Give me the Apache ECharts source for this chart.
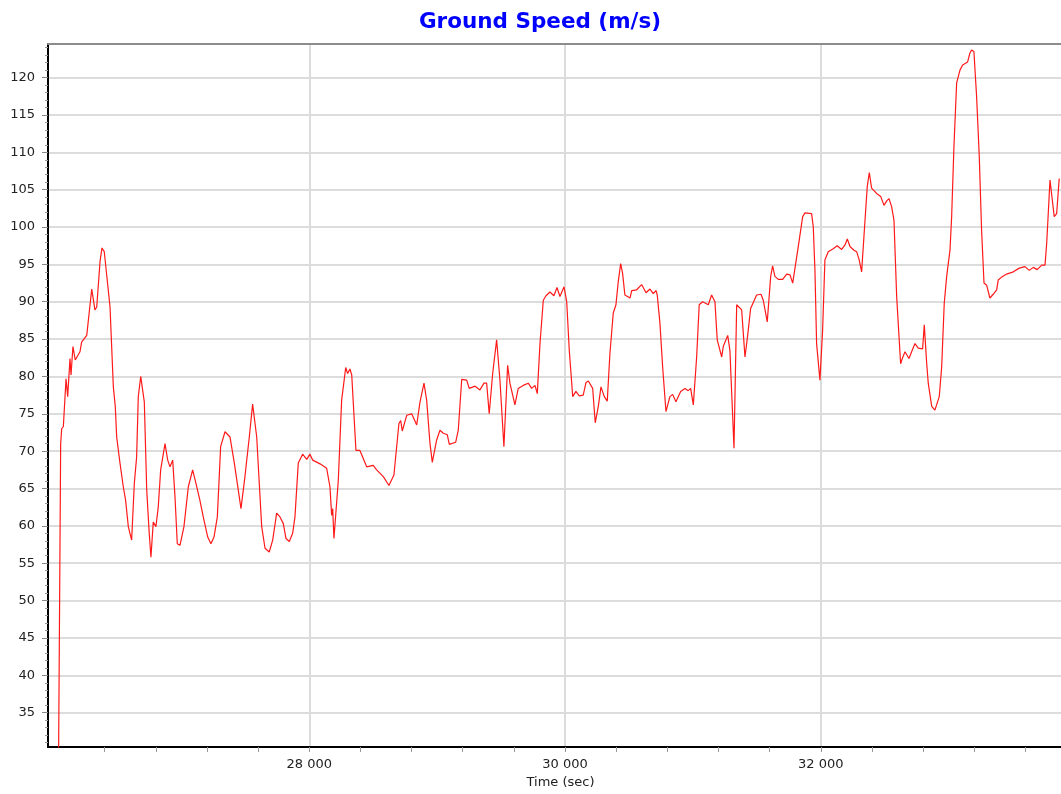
<!DOCTYPE html>
<html>
<head>
<meta charset="utf-8">
<script src="https://cdn.jsdelivr.net/npm/echarts@6/dist/echarts.min.js"></script>
<style>
  html, body { margin: 0; padding: 0; background: #fff; }
  #chart { width: 1061px; height: 794px; }
</style>
</head>
<body>
<div id="chart"></div>
<script>
// time stamps (sec) and ground speed (m/s)
const timeSec = [
  26040,26056,26064,26077,26098,26111,26129,26137,26152,26170,
  26207,26220,26260,26272,26299,26324,26338,26364,26379,26397,
  26442,26468,26483,26494,26520,26546,26564,26585,26611,26632,
  26650,26663,26682,26710,26729,26747,26762,26780,26801,26819,
  26838,26872,26893,26911,26932,26950,26968,26989,27020,27054,
  27088,27114,27145,27171,27206,27231,27255,27281,27307,27341,
  27380,27414,27466,27497,27531,27557,27589,27609,27628,27654,
  27687,27714,27745,27771,27797,27818,27844,27870,27888,27914,
  27948,27980,28005,28027,28084,28136,28162,28175,28183,28193,
  28227,28253,28285,28300,28318,28332,28365,28396,28449,28500,
  28527,28579,28623,28662,28701,28715,28727,28762,28801,28813,
  28840,28866,28897,28918,28944,28962,28996,29022,29048,29079,
  29095,29145,29165,29192,29204,29231,29251,29296,29335,29366,
  29387,29407,29434,29465,29491,29522,29551,29569,29608,29634,
  29673,29712,29739,29765,29783,29804,29830,29851,29882,29913,
  29937,29960,29992,30013,30033,30060,30085,30111,30142,30164,
  30182,30216,30236,30260,30281,30307,30330,30351,30377,30398,
  30416,30435,30450,30468,30508,30521,30560,30599,30633,30664,
  30690,30711,30721,30742,30763,30789,30820,30841,30867,30904,
  30938,30963,30982,31003,31029,31049,31076,31120,31146,31172,
  31190,31225,31237,31272,31289,31321,31342,31381,31407,31428,
  31451,31498,31532,31550,31581,31608,31623,31641,31667,31702,
  31733,31759,31780,31798,31824,31858,31876,31928,31941,31954,
  31967,31993,32014,32032,32058,32097,32128,32163,32189,32207,
  32228,32259,32280,32300,32319,32337,32363,32379,32397,32436,
  32468,32494,32515,32533,32554,32572,32593,32624,32637,32658,
  32689,32710,32736,32762,32796,32809,32828,32840,32867,32892,
  32926,32945,32965,32984,33010,33023,33041,33062,33088,33109,
  33148,33166,33179,33197,33218,33239,33257,33276,33297,33322,
  33348,33375,33387,33414,33453,33505,33552,33596,33630,33661,
  33692,33727,33753,33766,33792,33805,33825,33844,33864
];
const speed = [
  30,71.0,73.0,73.3,79.7,77.3,82.4,80.2,84.0,82.2,
  83.3,84.6,85.5,85.5,91.7,88.9,89.3,95.4,97.2,96.7,
  89.3,78.6,76.0,71.9,68.4,65.2,63.4,59.9,58.1,65.7,
  69.2,77.3,80.0,76.6,64.8,59.4,55.8,60.5,59.9,62.5,
  67.5,71.0,68.8,67.9,68.8,63.9,57.6,57.4,59.9,65.2,
  67.5,65.7,63.4,61.2,58.5,57.6,58.5,61.2,70.6,72.6,
  71.9,68.4,62.3,66.6,71.9,76.3,71.9,65.7,59.9,57.0,
  56.5,58.1,61.7,61.2,60.3,58.3,57.9,59.0,61.2,68.4,
  69.6,68.9,69.6,68.8,68.3,67.7,65.2,61.4,62.3,58.3,
  66.1,76.8,81.2,80.4,81.0,80.2,70.1,70.1,67.9,68.1,
  67.5,66.6,65.4,66.8,73.7,74.1,72.7,74.8,75.0,74.8,
  73.5,76.6,79.1,76.8,71.0,68.5,71.5,72.8,72.4,72.2,
  70.9,71.2,72.8,79.6,79.5,79.5,78.4,78.7,78.2,79.1,
  79.1,75.0,80.4,84.9,79.5,70.6,81.5,79.1,76.2,78.4,
  78.8,79.1,78.4,78.8,77.7,84.4,90.2,90.8,91.3,90.8,
  91.9,90.7,92.0,90.0,83.5,77.3,78.0,77.4,77.5,79.2,
  79.4,78.4,73.8,76.0,78.6,77.3,76.7,83.1,88.5,89.6,
  92.7,95.1,93.8,90.9,90.5,91.5,91.6,92.3,91.2,91.7,
  91.1,91.5,90.9,87.1,81.3,75.3,77.3,77.6,76.6,78.0,
  78.4,78.1,78.4,76.2,82.6,89.6,90.0,89.6,90.9,90.0,
  84.9,82.6,84.0,85.5,83.5,70.4,89.6,88.9,82.6,85.5,
  89.1,90.9,91.0,90.2,87.3,93.4,94.8,93.4,93.0,93.0,
  93.7,93.6,92.5,94.5,97.4,101.4,101.9,101.8,100.0,94.2,
  84.4,79.5,86.2,95.6,96.7,97.1,97.5,97.0,97.6,98.4,
  97.4,96.9,96.7,95.6,94.0,98.7,105.4,107.3,105.2,104.5,
  104.1,102.9,103.5,103.8,102.7,100.9,90.7,81.7,82.4,83.3,
  82.4,83.3,84.4,83.8,83.7,86.9,81.7,79.1,76.0,75.5,
  77.3,81.3,89.8,93.4,96.9,101.4,110.8,119.3,121.0,121.7,
  122.1,123.3,123.7,123.5,117.5,109.4,99.6,92.5,92.2,90.5,
  91.0,91.6,92.9,93.3,93.7,94.0,94.5,94.7,94.2,94.6,
  94.3,94.9,94.9,97.8,106.3,106.1,101.4,101.8,106.5
];

const X_MIN = 25957, X_MAX = 33878;
const Y_MIN = 30.4, Y_MAX = 124.5;
const xLabelValues = [28000, 30000, 32000];
const xTickValues = [26400, 26800, 27200, 27600, 28000, 28400, 28800, 29200, 29600, 30000,
  30400, 30800, 31200, 31600, 32000, 32400, 32800, 33200, 33600];
const yTickValues = [35, 40, 45, 50, 55, 60, 65, 70, 75, 80, 85, 90, 95, 100, 105, 110, 115, 120];

const FONT = "'DejaVu Sans', Verdana, sans-serif";
const fmtThousands = v => String(v).replace(/\B(?=(\d{3})+(?!\d))/g, ' ');

const chart = echarts.init(document.getElementById('chart'));
chart.setOption({
  animation: false,
  backgroundColor: '#fff',
  title: {
    text: 'Ground Speed (m/s)',
    left: 540, top: 11, padding: 0, textAlign: 'center',
    textStyle: { color: '#0000ff', fontSize: 21.5, fontWeight: 'bold', fontFamily: FONT }
  },
  grid: { left: 48, right: 0, top: 44, bottom: 47 },
  xAxis: [{
    type: 'value', min: X_MIN, max: X_MAX, position: 'bottom',
    name: 'Time (sec)', nameLocation: 'middle', nameGap: 28,
    nameTextStyle: { color: '#222', fontSize: 13, fontFamily: FONT, padding: [0, 0, 0, 12] },
    axisLine: { show: true, onZero: false, lineStyle: { color: '#000', width: 2 } },
    axisTick: { show: true, length: 5, customValues: xTickValues, lineStyle: { color: '#999' } },
    axisLabel: { customValues: xLabelValues, margin: 11, color: '#222', fontSize: 13, fontFamily: FONT,
      formatter: fmtThousands },
    splitLine: { show: false }
  }, {
    // top copy of the axis: gray frame line on top and the vertical grid lines
    type: 'value', min: X_MIN, max: X_MAX, position: 'top',
    axisLine: { show: true, onZero: false, lineStyle: { color: '#8c8c8c', width: 2 } },
    axisTick: { show: false, customValues: xLabelValues },
    axisLabel: { show: false },
    splitLine: { show: true, lineStyle: { color: '#dcdcdc', width: 2 } }
  }],
  yAxis: {
    type: 'value', min: Y_MIN, max: Y_MAX, splitNumber: 19,
    axisLine: { show: true, onZero: false, lineStyle: { color: '#000', width: 2 } },
    axisTick: { show: true, length: 6, customValues: yTickValues, lineStyle: { color: '#888' } },
    minorTick: { show: true, splitNumber: 5, length: 3, lineStyle: { color: '#999' } },
    axisLabel: { customValues: yTickValues, margin: 13, color: '#222', fontSize: 13, fontFamily: FONT },
    splitLine: { show: true, lineStyle: { color: '#dcdcdc', width: 2 } }
  },
  series: [{
    type: 'line',
    xAxisIndex: 0,
    data: timeSec.map((t, i) => [t, speed[i]]),
    showSymbol: false,
    clip: true,
    lineStyle: { color: '#ff1a1a', width: 1.2 },
    z: 5
  }]
});
</script>
</body>
</html>
